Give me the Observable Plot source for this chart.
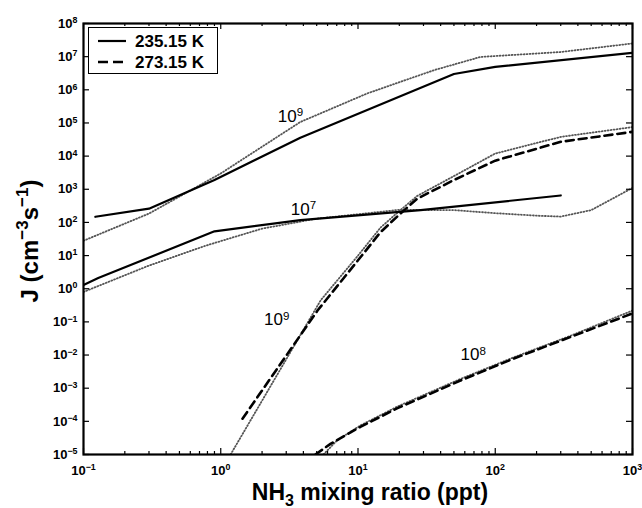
<!DOCTYPE html>
<html>
<head>
<meta charset="utf-8">
<script src="https://cdn.jsdelivr.net/npm/d3@7"></script>
<script src="https://cdn.jsdelivr.net/npm/@observablehq/plot@0.6"></script>
<style>
  html, body { margin: 0; padding: 0; background: #fff; }
  #chart { width: 642px; height: 508px; }
</style>
</head>
<body>
<div id="chart"></div>
<script>
// ---------------- data ----------------
const xTickValues = [0.1, 1, 10, 100, 1000];
const xTickLabels = ["10^-1", "10^0", "10^1", "10^2", "10^3"];
const yTickValues = [1e-5, 1e-4, 1e-3, 1e-2, 1e-1, 1, 10, 100, 1e3, 1e4, 1e5, 1e6, 1e7, 1e8];
const yTickLabels = ["10^-5", "10^-4", "10^-3", "10^-2", "10^-1", "10^0", "10^1", "10^2", "10^3", "10^4", "10^5", "10^6", "10^7", "10^8"];

// 235.15 K, 10^9 (solid) and its dotted companion
const solid235UpperX = [0.122, 0.3, 0.9, 3.8, 50, 100, 1000];
const solid235UpperY = [148, 260, 1900, 3.6e4, 3e6, 4.9e6, 1.3e7];
const dotted235UpperX = [0.1, 0.3, 1, 3.8, 11.7, 35.7, 78, 300, 1000];
const dotted235UpperY = [28, 185, 3000, 1.07e5, 7.8e5, 3.9e6, 9.8e6, 1.38e7, 2.5e7];

// 235.15 K, 10^7 (solid) and its dotted companion
const solid235LowerX = [0.1, 0.128, 0.9, 3.8, 28.6, 300];
const solid235LowerY = [1.3, 2.1, 54, 117, 235, 650];
const dotted235LowerX = [0.1, 0.3, 0.78, 2, 5, 20, 50, 100, 200, 300, 500, 1000];
const dotted235LowerY = [0.8, 5, 20, 65, 130, 240, 235, 190, 160, 150, 235, 1100];

// 273.15 K, 10^9 (dashed) and its dotted companion
const dashed273UpperX = [1.44, 5.07, 10, 14.6, 20.4, 27, 50, 100, 300, 1000];
const dashed273UpperY = [1.2e-4, 0.22, 7.2, 51, 186, 520, 1900, 7300, 2.7e4, 5.4e4];
const dotted273UpperX = [1.18, 2, 5.35, 10, 14.6, 20, 27, 50, 100, 300, 1000];
const dotted273UpperY = [1e-5, 4.2e-4, 0.45, 10, 70, 220, 630, 2500, 1.2e4, 3.8e4, 7.5e4];

// 273.15 K, 10^8 (dashed) and its dotted companion
const dashed273LowerX = [4.9, 6.3, 10.4, 19.4, 55.8, 136, 353, 1000];
const dashed273LowerY = [1e-5, 2.1e-5, 6.8e-5, 2.5e-4, 1.7e-3, 7.8e-3, 3.5e-2, 0.18];
const dotted273LowerX = [5.6, 7, 10.4, 19.4, 55.8, 136, 353, 1000];
const dotted273LowerY = [1e-5, 2.6e-5, 7.5e-5, 2.8e-4, 1.9e-3, 8.5e-3, 3.8e-2, 0.22];

// curve annotations
const curveLabelText = ["10^9", "10^7", "10^9", "10^8"];
const curveLabelX = [2.6, 3.24, 2.07, 55.8];
const curveLabelY = [1.07e5, 166, 0.079, 6.9e-3];

const legendLabels = ["235.15 K", "273.15 K"];
const xAxisTitle = ["NH", "3", " mixing ratio (ppt)"];
const yAxisTitle = ["J (cm", "\u22123", "s", "\u22121", ")"];

// ---------------- build ----------------
const W = 642, H = 508;
const M = {top: 23, right: 10, bottom: 54, left: 83};
const innerW = W - M.left - M.right;
const innerH = H - M.top - M.bottom;
const FONT = "'Liberation Sans', Arial, Helvetica, sans-serif";

const rows = (xs, ys) => xs.map((x, i) => ({x, y: ys[i]}));

const styles = {
  solid: {stroke: "#000", strokeWidth: 2.2},
  dashed: {stroke: "#000", strokeWidth: 2.6, strokeDasharray: "8,5"},
  dotted: {stroke: "#555", strokeWidth: 1.8, strokeDasharray: "0.9,2.1"}
};

const dottedSeries = [
  rows(dotted235UpperX, dotted235UpperY),
  rows(dotted235LowerX, dotted235LowerY),
  rows(dotted273UpperX, dotted273UpperY),
  rows(dotted273LowerX, dotted273LowerY)
];
const solidSeries = [
  rows(solid235UpperX, solid235UpperY),
  rows(solid235LowerX, solid235LowerY)
];
const dashedSeries = [
  rows(dashed273UpperX, dashed273UpperY),
  rows(dashed273LowerX, dashed273LowerY)
];

const xAll = d3.scaleLog().domain([0.1, 1000]).ticks();
const yAll = d3.scaleLog().domain([1e-5, 1e8]).ticks();
const isMajor = v => Math.abs(Math.log10(v) - Math.round(Math.log10(v))) < 1e-9;
const xMinor = xAll.filter(v => !isMajor(v));
const yMinor = yAll.filter(v => !isMajor(v));

const MAJ = 6, MIN = 3;
const tickStyle = {stroke: "#000", strokeWidth: 1.2};

const curveLabels = curveLabelText.map((t, i) => ({t, x: curveLabelX[i], y: curveLabelY[i]}));

const marks = [
  ...dottedSeries.map(d => Plot.line(d, {x: "x", y: "y", ...styles.dotted, clip: true})),
  ...solidSeries.map(d => Plot.line(d, {x: "x", y: "y", ...styles.solid, clip: true})),
  ...dashedSeries.map(d => Plot.line(d, {x: "x", y: "y", ...styles.dashed, clip: true})),
  // ticks (inward, on all four sides)
  Plot.tickX(xMinor, {x: d => d, insetTop: innerH - MIN, ...tickStyle}),
  Plot.tickX(xMinor, {x: d => d, insetBottom: innerH - MIN, ...tickStyle}),
  Plot.tickX(xTickValues, {x: d => d, insetTop: innerH - MAJ, ...tickStyle}),
  Plot.tickX(xTickValues, {x: d => d, insetBottom: innerH - MAJ, ...tickStyle}),
  Plot.tickY(yMinor, {y: d => d, insetRight: innerW - MIN, ...tickStyle}),
  Plot.tickY(yMinor, {y: d => d, insetLeft: innerW - MIN, ...tickStyle}),
  Plot.tickY(yTickValues, {y: d => d, insetRight: innerW - MAJ, ...tickStyle}),
  Plot.tickY(yTickValues, {y: d => d, insetLeft: innerW - MAJ, ...tickStyle}),
  Plot.frame({stroke: "#000", strokeWidth: 2.2}),
  Plot.axisX({
    ticks: xTickValues, tickSize: 0, tickPadding: 11, label: null,
    tickFormat: d => xTickLabels[xTickValues.indexOf(d)],
    fontSize: 13, fontWeight: "bold", fill: "#000"
  }),
  Plot.axisY({
    ticks: yTickValues, tickSize: 0, tickPadding: 6, label: null,
    tickFormat: d => yTickLabels[yTickValues.indexOf(d)],
    fontSize: 13, fontWeight: "bold", fill: "#000"
  }),
  Plot.text(curveLabels, {
    x: "x", y: "y", text: "t", textAnchor: "start", lineAnchor: "bottom",
    fontSize: 17, fill: "#000"
  })
];

const svg = Plot.plot({
  width: W, height: H,
  marginTop: M.top, marginRight: M.right, marginBottom: M.bottom, marginLeft: M.left,
  x: {type: "log", domain: [0.1, 1000]},
  y: {type: "log", domain: [1e-5, 1e8]},
  style: {fontFamily: FONT, background: "#fff", color: "#000", overflow: "visible"},
  marks
});

// superscripts for tick labels and curve labels
svg.querySelectorAll("text").forEach(el => {
  const s = el.textContent;
  if (!s.includes("^")) return;
  const [base, exp] = s.split("^");
  el.textContent = base;
  const ts = document.createElementNS("http://www.w3.org/2000/svg", "tspan");
  ts.setAttribute("dy", "-0.5em");
  ts.setAttribute("font-size", "0.68em");
  ts.textContent = exp.replace("-", "\u2212");
  el.appendChild(ts);
});

const root = d3.select(svg);

// x axis title
const xt = root.append("text")
  .attr("x", 370).attr("y", 500)
  .attr("text-anchor", "middle")
  .attr("font-family", FONT).attr("font-size", 23).attr("font-weight", "bold").attr("fill", "#000");
xt.append("tspan").text(xAxisTitle[0]);
xt.append("tspan").attr("dy", 6).attr("font-size", 16).text(xAxisTitle[1]);
xt.append("tspan").attr("dy", -6).text(xAxisTitle[2]);

// y axis title
const yt = root.append("text")
  .attr("transform", "translate(38,241) rotate(-90)")
  .attr("text-anchor", "middle")
  .attr("font-family", FONT).attr("font-size", 24).attr("font-weight", "bold").attr("fill", "#000");
yt.append("tspan").text(yAxisTitle[0]);
yt.append("tspan").attr("dy", -10).attr("font-size", 17).text(yAxisTitle[1]);
yt.append("tspan").attr("dy", 10).text(yAxisTitle[2]);
yt.append("tspan").attr("dy", -10).attr("font-size", 17).text(yAxisTitle[3]);
yt.append("tspan").attr("dy", 10).text(yAxisTitle[4]);

// legend box
const lg = root.append("g");
lg.append("rect").attr("x", 88.5).attr("y", 27.5).attr("width", 129).attr("height", 46)
  .attr("fill", "#fff").attr("stroke", "#000").attr("stroke-width", 1);
const legendStyles = [styles.solid, styles.dashed];
legendLabels.forEach((lab, i) => {
  const cy = 41 + i * 21;
  const st = legendStyles[i];
  lg.append("line").attr("x1", 98).attr("x2", 126).attr("y1", cy).attr("y2", cy)
    .attr("stroke", st.stroke).attr("stroke-width", st.strokeWidth)
    .attr("stroke-dasharray", i === 1 ? "10,5" : null);
  lg.append("text").attr("x", 135).attr("y", cy + 6)
    .attr("text-anchor", "start")
    .attr("font-family", FONT).attr("font-size", 17).attr("font-weight", "bold").attr("fill", "#000")
    .text(lab);
});

document.getElementById("chart").appendChild(svg);
</script>
</body>
</html>
